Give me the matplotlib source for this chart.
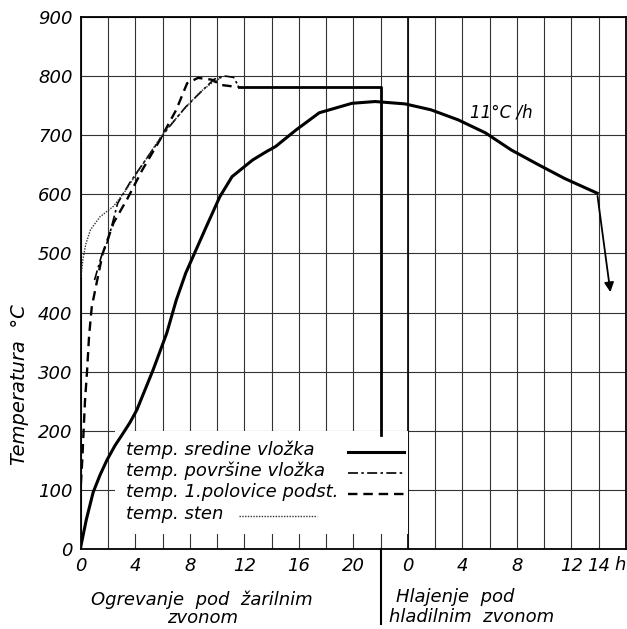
import matplotlib.pyplot as plt

plt.rcParams['font.family'] = 'DejaVu Sans'
plt.rcParams['font.style'] = 'italic'

# x axis is one continuous scale: heating 0..22 h, cooling starts at 24 (cooling 0 h)
cool0 = 24

# temp. sredine vlozka (core), heating + cooling
core_h = [0, 0.4, 0.9, 1.4, 1.9, 2.5, 3.1, 3.6, 4.1, 5.3, 6.3, 7.0, 7.7, 9.2, 10.2, 11.1,
          12.6, 13.6, 14.3, 15.8, 17.5, 19.9, 21.6, 23.8, 25.7, 27.7, 29.7, 31.6, 33.6,
          35.5, 37.9]
core_t = [5, 50, 96, 125, 150, 175, 196, 214, 235, 303, 365, 421, 467, 545, 596, 630,
          658, 672, 681, 709, 738, 754, 757, 753, 743, 726, 704, 675, 650, 627, 602]

# temp. povrsine vlozka (dash-dot)
surf_h = [1.0, 1.5, 2.0, 2.7, 3.6, 4.8, 6.3, 7.7, 9.2, 9.8, 10.6, 11.2, 11.6]
surf_t = [455, 495, 523, 585, 620, 660, 709, 748, 782, 795, 800, 798, 782]

# temp. 1.polovice podst. (dashed)
half_h = [0, 0.1, 0.2, 0.3, 0.45, 0.6, 0.8, 1.2, 1.6, 2.4, 3.4, 4.5, 5.8, 7.0, 7.8,
          8.6, 9.6, 10.3, 11.0, 11.6]
half_t = [110, 150, 200, 250, 300, 360, 410, 455, 500, 552, 592, 641, 692, 743, 788,
          797, 794, 785, 783, 782]

# temp. sten (dotted)
wall_h = [0, 0.15, 0.35, 0.7, 1.4, 2.4, 3.3, 4.6, 6.0, 7.5, 8.7, 9.7, 10.3]
wall_t = [460, 490, 515, 540, 562, 580, 607, 653, 702, 742, 772, 790, 797]

# holding line and end of heating
hold_h = [11.6, 22, 22]
hold_t = [782, 782, 193]

# final drop (arrow)
drop_h = [37.9, 38.9]
drop_t = [602, 430]

heat_ticks = [0, 4, 8, 12, 16, 20]
cool_ticks = [0, 4, 8, 12, 14]

labels = ['temp. sredine vložka', 'temp. površine vložka',
          'temp. 1.polovice podst.', 'temp. sten']
styles = [dict(color='black', lw=2.2, ls='-'),
          dict(color='black', lw=1.2, ls=(0, (6, 2, 1.5, 2))),
          dict(color='black', lw=1.7, ls=(0, (4, 2.5))),
          dict(color='#333333', lw=1.0, ls=(0, (1, 1)))]

fig = plt.figure(figsize=(6.27, 6.29), dpi=100)
ax = fig.add_axes([0.129, 0.127, 0.869, 0.846])
ax.set_xlim(0, 40)
ax.set_ylim(0, 900)

for x in range(0, 41, 2):
    ax.axvline(x, color='#333333', lw=0.8, zorder=1)
for y in range(0, 901, 100):
    ax.axhline(y, color='#333333', lw=0.8, zorder=1)
ax.axvline(cool0, color='#111111', lw=1.3, zorder=1)

# white patch behind the legend
ax.fill_between([2.5, 24], 25, 200, color='white', zorder=2, lw=0)

ax.plot(core_h, core_t, zorder=4, **styles[0])
ax.plot(hold_h, hold_t, color='black', lw=2.0, zorder=4)
ax.plot(surf_h, surf_t, zorder=3, **styles[1])
ax.plot(half_h, half_t, zorder=3, **styles[2])
ax.plot(wall_h, wall_t, zorder=3, **styles[3])
ax.annotate('', xy=(drop_h[1], drop_t[1]), xytext=(drop_h[0], drop_t[0]),
            arrowprops=dict(arrowstyle='-|>', color='black', lw=1.3,
                            mutation_scale=14), zorder=4)

ax.text(28.6, 738, '11°C /h', fontsize=12, va='center', ha='left')

# hand-placed legend: text, then line sample
row_y = [168, 132, 97, 60]
sample_x = [(19.6, 23.7), (19.6, 23.7), (19.6, 23.7), (11.6, 17.3)]
for lab, st, ry, (sx0, sx1) in zip(labels, styles, row_y, sample_x):
    ax.text(3.3, ry, lab, fontsize=13, va='center', ha='left', zorder=5)
    ax.plot([sx0, sx1], [ry - 4, ry - 4], zorder=5, **st)

for s in ax.spines.values():
    s.set_linewidth(1.3)

ax.set_yticks(range(0, 901, 100))
ax.set_yticklabels([str(v) for v in range(0, 901, 100)], fontsize=13)
ax.set_xticks(heat_ticks + [cool0 + t for t in cool_ticks])
ax.set_xticklabels([str(t) for t in heat_ticks] + [str(t) for t in cool_ticks], fontsize=13)
ax.tick_params(length=0, pad=6)
ax.text(39.6, -12, 'h', fontsize=13, ha='center', va='top')

ax.set_ylabel('Temperatura  °C', fontsize=14)
ax.yaxis.set_label_coords(-0.095, 0.31)

xt = ax.get_xaxis_transform()
ax.text(8.9, -0.096, 'Ogrevanje  pod  žarilnim', fontsize=13, ha='center', va='center',
        transform=xt)
ax.text(8.9, -0.13, 'zvonom', fontsize=13, ha='center', va='center', transform=xt)
ax.text(23.1, -0.09, 'Hlajenje  pod', fontsize=13, ha='left', va='center', transform=xt)
ax.text(22.6, -0.128, 'hladilnim  zvonom', fontsize=13, ha='left', va='center',
        transform=xt)
ax.plot([22, 22], [0, -0.14], color='black', lw=1.5, clip_on=False, transform=xt)

fig.savefig('out.png', dpi=100)
